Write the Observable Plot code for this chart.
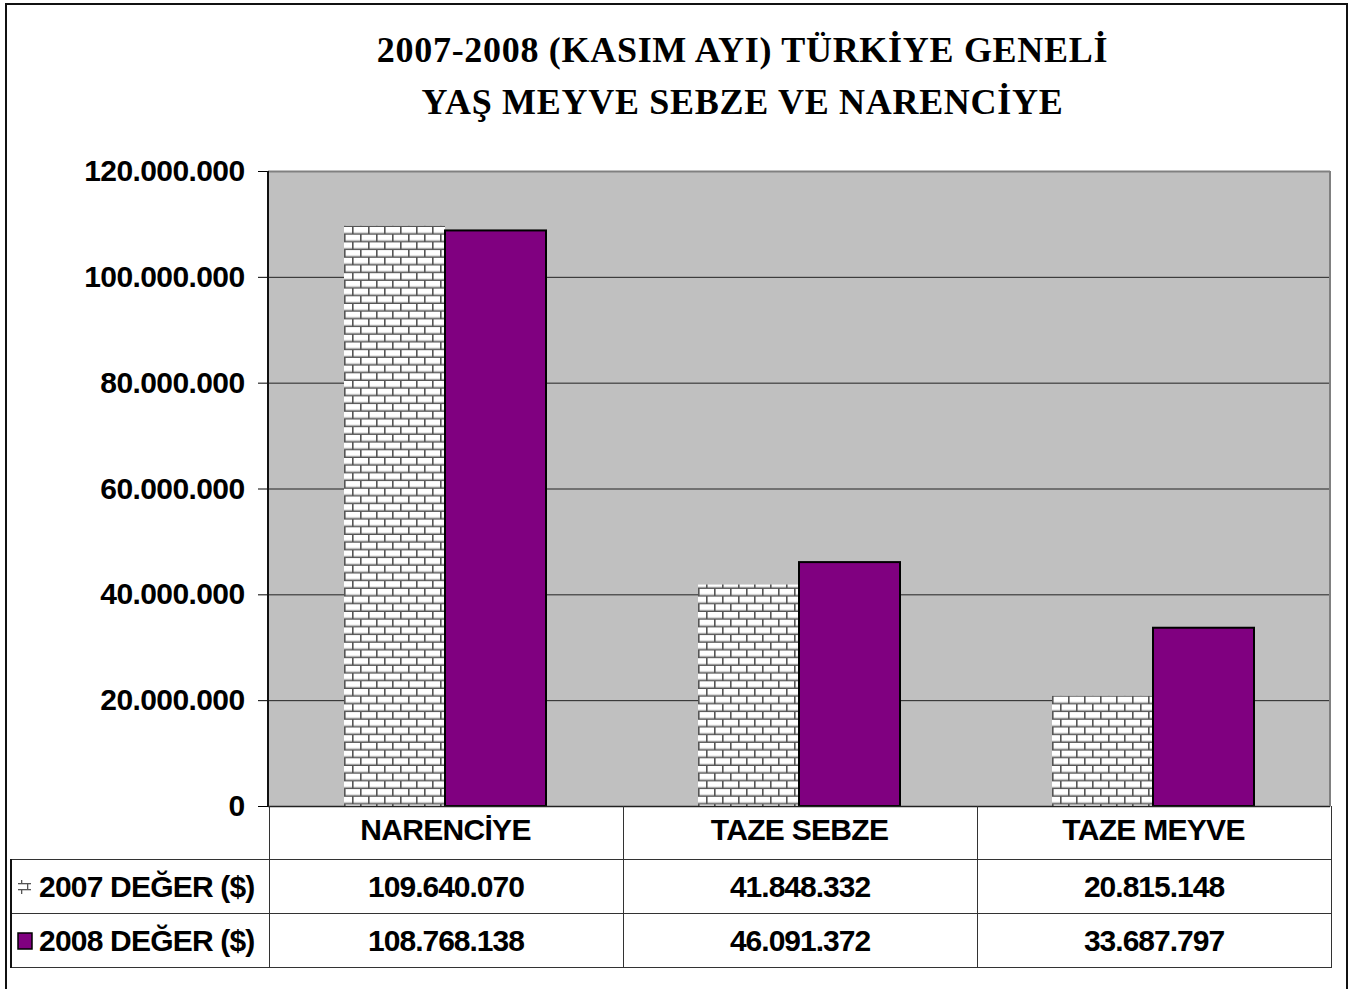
<!DOCTYPE html>
<html>
<head>
<meta charset="utf-8">
<script src="https://cdn.jsdelivr.net/npm/d3@7"></script>
<script src="https://cdn.jsdelivr.net/npm/@observablehq/plot@0.6"></script>
<style>
  html, body { margin: 0; padding: 0; background: #fff; }
  #wrap { position: relative; width: 1353px; height: 989px; overflow: hidden; background: #fff; font-family: "Liberation Sans", Arial, sans-serif; }
  #outer { position: absolute; left: 5px; top: 3px; width: 1343px; height: 1010px; border: 2px solid #111; box-sizing: border-box; }
  #title { position: absolute; left: 132px; width: 1221px; top: 24px; text-align: center; font-family: "Liberation Serif", "Times New Roman", serif; font-weight: bold; font-size: 36px; letter-spacing: 0.7px; line-height: 52px; color: #000; }
  #chart { position: absolute; left: 0; top: 150px; }
  #rightedge { position: absolute; left: 1329px; top: 171px; width: 1.5px; height: 635px; background: #808080; }
  #leftaxis { position: absolute; left: 267px; top: 171px; width: 1.5px; height: 635px; background: #111; }
  #tbl { position: absolute; left: 10px; top: 806px; border-collapse: collapse; table-layout: fixed; font-family: "Liberation Sans", Arial, sans-serif; font-weight: bold; font-size: 30px; letter-spacing: -1px; color: #000; }
  #tbl td { border: 1.5px solid #333; padding: 0; text-align: center; }
  #tbl tr.cat td { border-top: none; height: 53px; }
  #tbl tr.cat td.blank { border-left: none; border-bottom: 1.5px solid #333; }
  #tbl tr.val td { height: 53px; }
  #tbl td.lab { text-align: left; padding-left: 5px; white-space: nowrap; border-left: 2px solid #111; letter-spacing: -0.8px; }
  .icon { display: inline-block; vertical-align: middle; margin-right: 6px; position: relative; top: -2px; }
</style>
</head>
<body>
<div id="wrap">
  <div id="outer"></div>
  <div id="title">2007-2008 (KASIM AYI) TÜRKİYE GENELİ<br>YAŞ MEYVE SEBZE VE NARENCİYE</div>
  <div id="chart"></div>
  <div id="rightedge"></div>
  <div id="leftaxis"></div>
  <table id="tbl"></table>
</div>
<script>
// ---- Data ----
const categories = ["NARENCİYE", "TAZE SEBZE", "TAZE MEYVE"];
const seriesNames = ["2007 DEĞER ($)", "2008 DEĞER ($)"];
const values2007 = [109640070, 41848332, 20815148];
const values2008 = [108768138, 46091372, 33687797];
const yTicks = [0, 20000000, 40000000, 60000000, 80000000, 100000000, 120000000];

const locale = d3.formatLocale({decimal: ",", thousands: ".", grouping: [3], currency: ["", ""]});
const fmt = locale.format(",d");

const rows = [];
categories.forEach((c, i) => {
  rows.push({category: c, series: seriesNames[0], value: values2007[i]});
  rows.push({category: c, series: seriesNames[1], value: values2008[i]});
});

const PURPLE = "#800080";

const chart = Plot.plot({
  width: 1353,
  height: 710,
  marginTop: 21,
  marginBottom: 54,
  marginLeft: 268,
  marginRight: 23,
  style: {background: "transparent", fontFamily: "Liberation Sans, Arial, sans-serif", fontSize: "30px", fontWeight: "bold", color: "#000"},
  fx: {domain: categories, padding: 0, label: null, tickSize: 0, tickPadding: 12},
  x: {domain: seriesNames, paddingInner: 0, paddingOuter: 0.744, axis: null},
  y: {domain: [0, 120000000], label: null, ticks: yTicks, tickFormat: fmt, tickSize: 10, tickPadding: 14},
  marks: [
    Plot.frame({fill: "#c0c0c0", stroke: null, insetLeft: -0.6, insetRight: -0.6, shapeRendering: "crispEdges"}),
    Plot.gridY(yTicks, {stroke: "#222", strokeOpacity: 1, strokeWidth: 1}),
    Plot.ruleY([120000000], {stroke: "#808080", strokeWidth: 2}),
    Plot.barY(rows.filter(d => d.series === seriesNames[0]), {fx: "category", x: "series", y: "value", fill: "url(#brick)"}),
    Plot.barY(rows.filter(d => d.series === seriesNames[1]), {fx: "category", x: "series", y: "value", fill: PURPLE, stroke: "#000", strokeWidth: 2}),
    Plot.ruleY([0], {stroke: "#222", strokeWidth: 1.5})
  ]
});

// brick pattern definition
const svgNS = "http://www.w3.org/2000/svg";
const defs = document.createElementNS(svgNS, "defs");
defs.innerHTML = `
  <pattern id="brick" patternUnits="userSpaceOnUse" width="16" height="15.4">
    <rect width="16" height="15.4" fill="#ffffff"/>
    <rect x="0" y="5.2" width="16" height="1.4" fill="#d8d8d8"/>
    <rect x="0" y="12.9" width="16" height="1.4" fill="#d8d8d8"/>
    <rect x="0" y="6.3" width="16" height="1.4" fill="#555"/>
    <rect x="0" y="14.0" width="16" height="1.4" fill="#555"/>
    <rect x="0" y="0" width="1.6" height="7.7" fill="#555"/>
    <rect x="8" y="7.7" width="1.6" height="7.7" fill="#555"/>
  </pattern>`;
chart.insertBefore(defs, chart.firstChild);

// tighten tick-label spacing to match the reference lettering
chart.querySelectorAll('g[aria-label="y-axis tick label"], g[aria-label="y-axis"] text').forEach(el => el.setAttribute("letter-spacing", "-0.6"));
chart.querySelectorAll('g[aria-label="fx-axis tick label"], g[aria-label="fx-axis"] text').forEach(el => el.setAttribute("letter-spacing", "-0.7"));
document.getElementById("chart").appendChild(chart);

// table below the plot (category header row drawn by the fx axis)
const tbl = document.getElementById("tbl");
const colgroup = document.createElement("colgroup");
[258, 354, 354, 354].forEach(w => { const c = document.createElement("col"); c.style.width = w + "px"; colgroup.appendChild(c); });
tbl.appendChild(colgroup);
const trCat = document.createElement("tr");
trCat.className = "cat";
const blank = document.createElement("td"); blank.className = "blank"; trCat.appendChild(blank);
categories.forEach(() => { const td = document.createElement("td"); trCat.appendChild(td); });
tbl.appendChild(trCat);

const iconSvg = [
  `<svg class="icon" width="16" height="16" viewBox="0 0 16 16"><rect x="1" y="4" width="13" height="1.3" fill="#555"/><rect x="1" y="10" width="13" height="1.3" fill="#555"/><rect x="4" y="1" width="1.3" height="4" fill="#555"/><rect x="10" y="5" width="1.3" height="6" fill="#555"/><rect x="4" y="11" width="1.3" height="4" fill="#555"/></svg>`,
  `<svg class="icon" width="16" height="18" viewBox="0 0 16 18"><rect x="1" y="1" width="14" height="16" fill="${PURPLE}" stroke="#000" stroke-width="1.5"/></svg>`
];
[values2007, values2008].forEach((vals, si) => {
  const tr = document.createElement("tr");
  tr.className = "val";
  const lab = document.createElement("td");
  lab.className = "lab";
  lab.innerHTML = iconSvg[si] + seriesNames[si];
  tr.appendChild(lab);
  vals.forEach(v => { const td = document.createElement("td"); td.textContent = fmt(v); tr.appendChild(td); });
  tbl.appendChild(tr);
});
</script>
</body>
</html>
